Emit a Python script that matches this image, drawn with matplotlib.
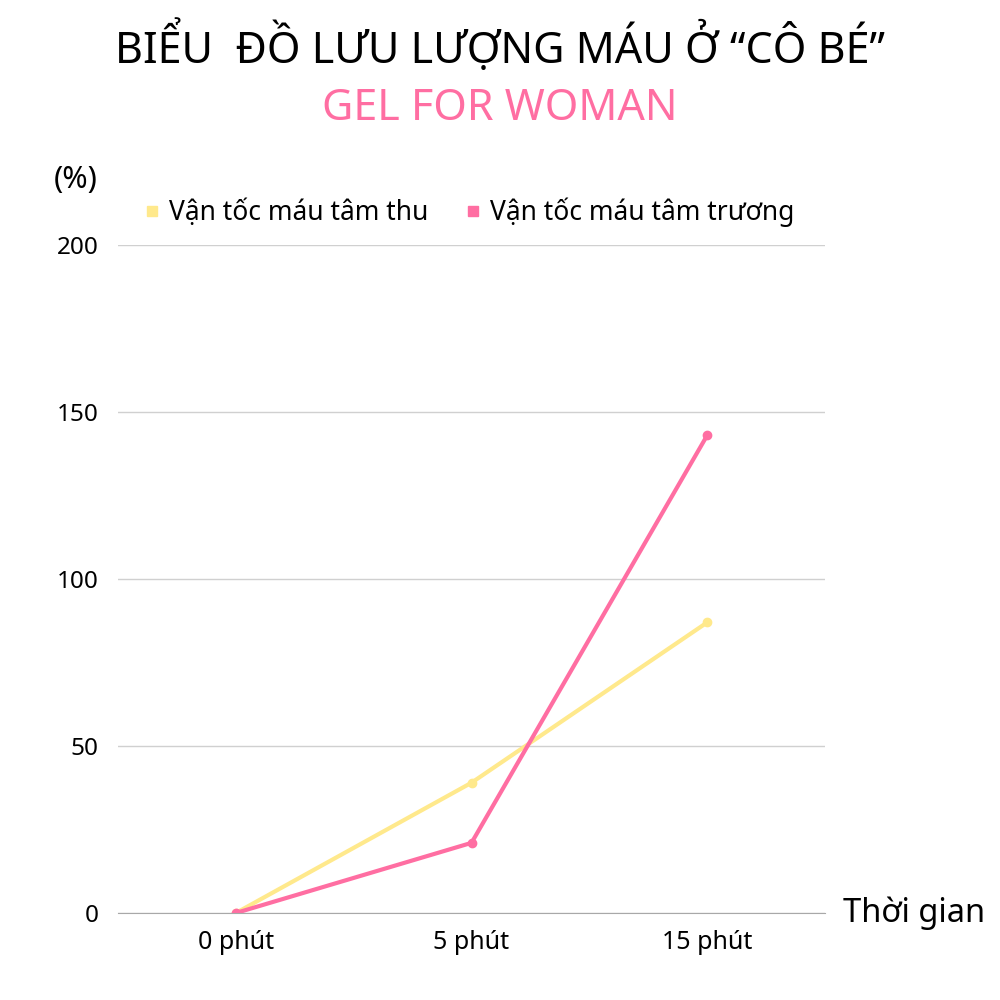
import matplotlib
matplotlib.use("Agg")
import matplotlib.pyplot as plt
from matplotlib.lines import Line2D

plt.rcParams['font.family'] = ['Noto Sans', 'DejaVu Sans']

categories = ["0 phút", "5 phút", "15 phút"]
systolic = [0, 39, 87]
diastolic = [0, 21, 143]
series_names = ["Vận tốc máu tâm thu", "Vận tốc máu tâm trương"]
yticks = [0, 50, 100, 150, 200]

yellow = "#FFE98C"
pink = "#FF6EA2"

fig = plt.figure(figsize=(10, 10), dpi=100)
ax = fig.add_axes([0.118, 0.087, 0.707, 0.668])

x = list(range(len(categories)))
ax.plot(x, systolic, color=yellow, lw=3, marker='o', ms=6, solid_capstyle='round')
ax.plot(x, diastolic, color=pink, lw=3, marker='o', ms=6, solid_capstyle='round')

ax.set_xlim(-0.5, 2.5)
ax.set_ylim(0, 200)
ax.set_xticks(x)
ax.set_xticklabels(categories, fontsize=18)
ax.set_yticks(yticks)
ax.set_yticklabels([str(v) for v in yticks], fontsize=17.5)
ax.grid(axis='y', color='#D0D0D0', lw=1)
ax.set_axisbelow(True)
for s in ['top', 'right', 'left']:
    ax.spines[s].set_visible(False)
ax.spines['bottom'].set_color('#A8A8A8')
ax.tick_params(axis='y', length=0, pad=14)
ax.tick_params(axis='x', length=0, pad=12)

fig.text(0.5, 0.952, "BIỂU  ĐỒ LƯU LƯỢNG MÁU Ở “CÔ BÉ”", ha='center', va='center',
         fontsize=31, color='black')
fig.text(0.5, 0.891, "GEL FOR WOMAN", ha='center', va='center', fontsize=31, color=pink)
fig.text(0.076, 0.82, "(%)", ha='center', va='center', fontsize=22)
fig.text(0.843, 0.087, "Thời gian", ha='left', va='center', fontsize=23.5)

handles = [Line2D([], [], ls='none', marker='s', ms=7.5, color=c) for c in (yellow, pink)]
fig.legend(handles, series_names, loc='center left', bbox_to_anchor=(0.141, 0.788),
           ncol=2, frameon=False, fontsize=19, handletextpad=0.25, columnspacing=1.3,
           handlelength=0.8, borderpad=0, borderaxespad=0)

fig.savefig("out.png", dpi=100, facecolor='white')
